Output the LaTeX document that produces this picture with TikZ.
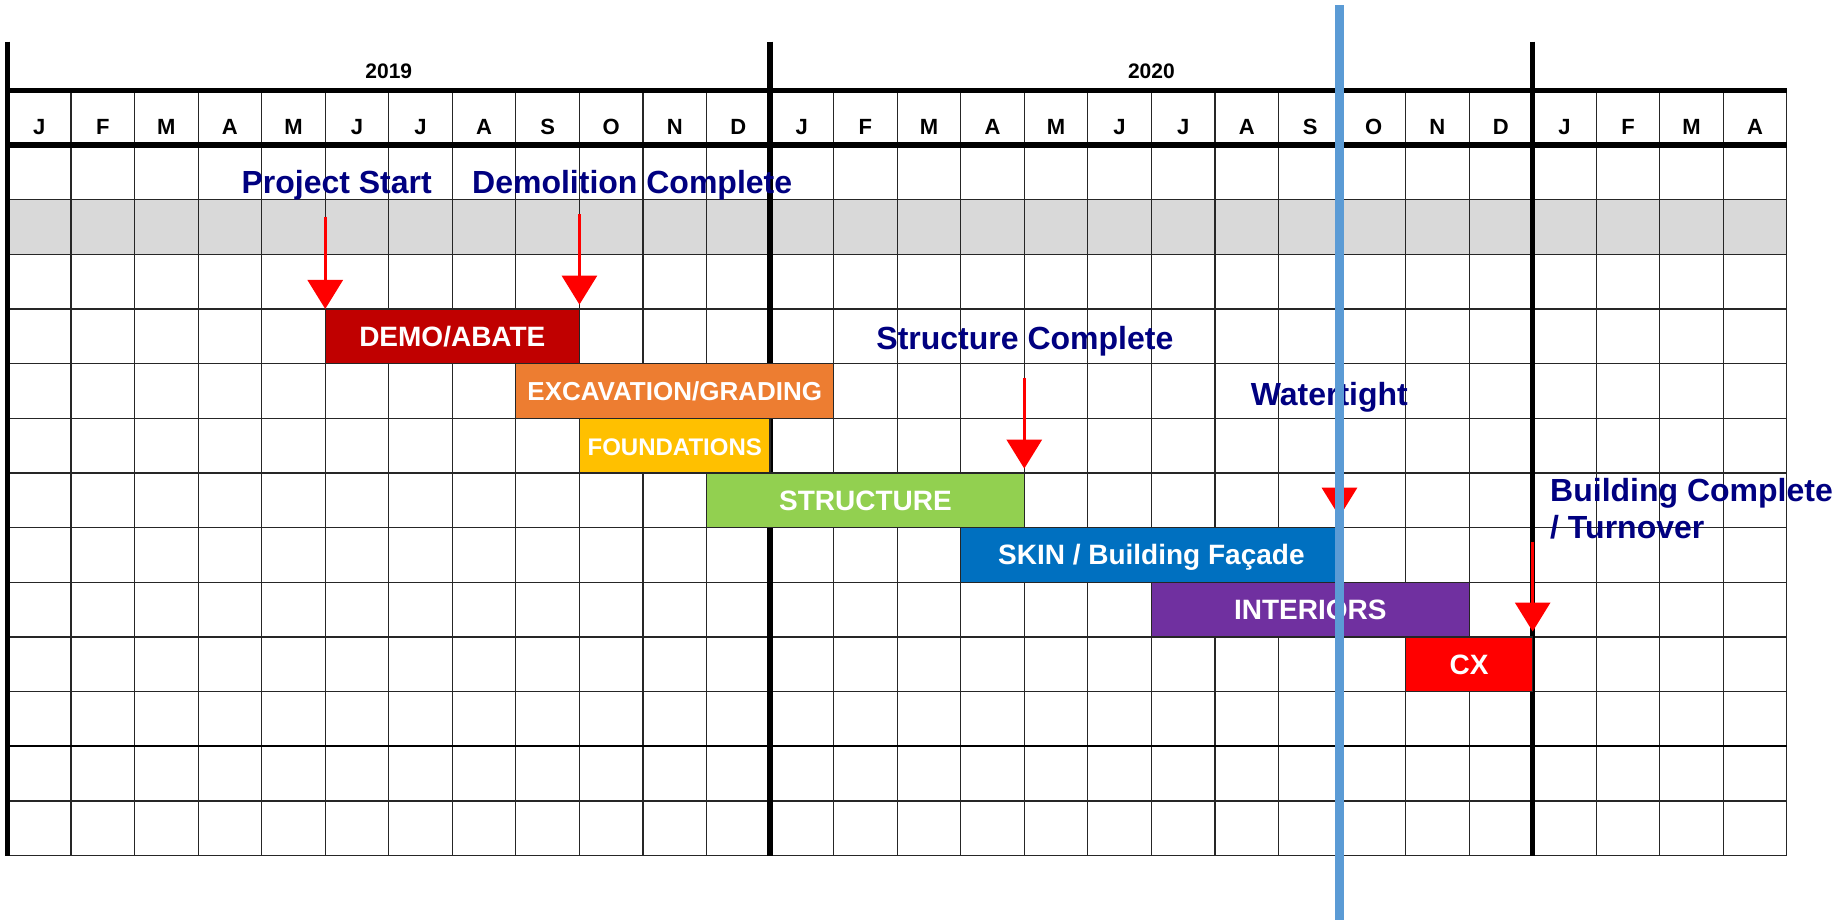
\documentclass[tikz,border=0pt]{standalone}
\usepackage{fontspec}
\setmainfont{Liberation Sans}
\usetikzlibrary{arrows.meta}
\definecolor{demoRed}{HTML}{C00000}
\definecolor{excavOrange}{HTML}{ED7D31}
\definecolor{foundGold}{HTML}{FFC000}
\definecolor{structGreen}{HTML}{92D050}
\definecolor{skinBlue}{HTML}{0070C0}
\definecolor{intPurple}{HTML}{7030A0}
\definecolor{cxRed}{HTML}{FF0000}
\definecolor{labelNavy}{HTML}{000080}
\definecolor{rowGray}{HTML}{D9D9D9}
\definecolor{todayBlue}{HTML}{5B9BD5}
\begin{document}
\begin{tikzpicture}
[x=31.775pt, y=-27.335pt,
  gridDecorate/.style={line width=0.6pt, draw=black!85},
  heavyDecorate/.style={line width=2.6pt, draw=black},
  barDecorate/.style={line width=0.6pt, draw=black!85},
  barText/.style={text=white, inner sep=0pt, anchor=base},
  monthDecorate/.style={font=\bfseries\fontsize{11}{13}\selectfont, inner sep=0pt, anchor=base},
  yearDecorate/.style={font=\bfseries\fontsize{10.5}{12}\selectfont, inner sep=0pt, anchor=base},
  labelDecorate/.style={text=labelNavy, font=\bfseries\fontsize{16}{18.5}\selectfont, inner sep=0pt, anchor=base},
  arrowDecorate/.style={-{Triangle[length=14.5pt,width=17.5pt]}, line width=1.5pt, draw=cxRed}]
\useasboundingbox (-0.118,-2.652) rectangle (28.915,14.231);
%% shaded row
\fill[rowGray] (0,1) rectangle (28,2);
%% thin grid
\foreach \col in {1,...,28}
{
  \draw[gridDecorate] (\col,-1) -- (\col,13);
}
\foreach \row in {1,...,13}
{
  \draw[gridDecorate] (0,\row) -- (28,\row);
}
\draw[line width=1.1pt] (0,11) -- (28,11);
%% heavy lines
\draw[heavyDecorate] (0,-1) -- (28,-1);
\draw[heavyDecorate] (0,0) -- (28,0);
\foreach \col in {0,12,24}
{
  \draw[heavyDecorate] (\col,-1.89) -- (\col,13);
}
%% years and months
\node[yearDecorate] (y2019) at (6,-1.21) {2019};
\node[yearDecorate] (y2020) at (18,-1.21) {2020};
\foreach \month [count=\i from 0] in {J,F,M,A,M,J,J,A,S,O,N,D,J,F,M,A,M,J,J,A,S,O,N,D,J,F,M,A}
{
  \node[monthDecorate] (m\i) at (\i+0.5,-0.2) {\month};
}
%% bars
\foreach \barname/\start/\stop/\row/\colour/\size/\text in {
  demo/5/9/3/demoRed/14/{DEMO/ABATE},
  excav/8/13/4/excavOrange/13/{EXCAVATION/GRADING},
  found/9/12/5/foundGold/12/FOUNDATIONS,
  struct/11/16/6/structGreen/14/STRUCTURE,
  skin/15/21/7/skinBlue/14/{SKIN / Building Façade},
  interiors/18/23/8/intPurple/14/INTERIORS,
  cx/22/24/9/cxRed/14/CX}
{
  \draw[barDecorate, fill=\colour] (\start,\row) rectangle (\stop,\row+1);
  \node[barText, font=\bfseries\fontsize{\size}{\size}\selectfont] (\barname) at ({(\start+\stop)/2},\row+0.68) {\text};
}
%% milestones
\node[labelDecorate] (projStart) at (5.18,0.88) {Project Start};
\node[labelDecorate] (demoDone) at (9.83,0.88) {Demolition Complete};
\node[labelDecorate] (structDone) at (16.01,3.75) {Structure Complete};
\node[labelDecorate] (waterTight) at (20.8,4.76) {Watertight};
\node[labelDecorate, anchor=north west, align=left] (buildDone) at (24.27,6.09) {Building Complete\\/ Turnover};
\foreach \arrowname/\x/\from/\to in {
  start/5/1.31/3, demo/9/1.27/2.92, struct/16/4.26/5.92,
  water/20.96/5.1/6.8, build/24/7.26/8.9}
{
  \coordinate (\arrowname Top) at (\x,\from);
  \coordinate (\arrowname Tip) at (\x,\to);
  \draw[arrowDecorate] (\arrowname Top) -- (\arrowname Tip);
}
%% today line
\coordinate (todayTop) at (20.96,-2.56);
\coordinate (todayBottom) at (20.96,14.18);
\draw[line width=4.3pt, todayBlue] (todayTop) -- (todayBottom);
\end{tikzpicture}
\end{document}
